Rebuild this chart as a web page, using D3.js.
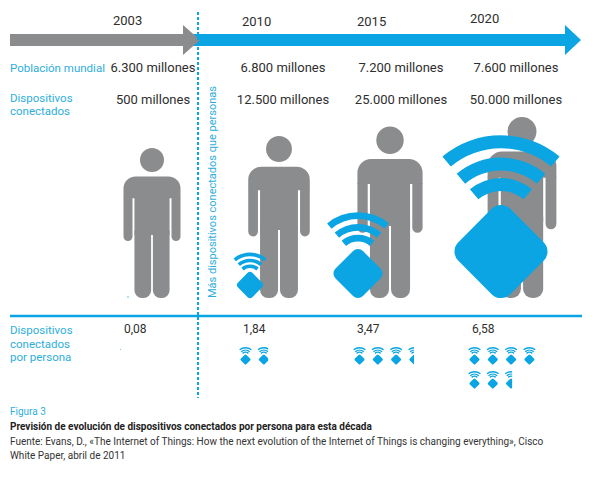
<!DOCTYPE html>
<html>
<head>
<meta charset="utf-8">
<script src="https://cdn.jsdelivr.net/npm/d3@7"></script>
<style>
  body { margin: 0; background: #fff; }
  text { font-family: Roboto, "Liberation Sans", sans-serif; }
</style>
</head>
<body>
<div id="wrapper"></div>
<script>
// datos de la figura
const years = ["2003", "2010", "2015", "2020"];
const poblacion = [6300, 6800, 7200, 7600];        // millones
const dispositivos = [500, 12500, 25000, 50000];   // millones
const porPersona = [0.08, 1.84, 3.47, 6.58];

const BLUE = "#0aa5e2";
const BLUE_TEXT = "#2eaedc";
const GRAY = "#8b8c8e";
const DARK = "#2e2e2e";

function buildChart() {
    const dimension = { width: 592, height: 480, ground: 298 };

    // posiciones de columnas (maquetación)
    const yearX = d3.scaleOrdinal().domain(years).range([113, 242, 357, 470]);
    const yearY = d3.scaleOrdinal().domain(years).range([25, 26, 26, 23]);
    const valueX = d3.scaleOrdinal().domain(years).range([153, 283, 401, 516]);
    const personX = d3.scaleOrdinal().domain(years).range([152, 279, 390, 522]);
    const deviceX = d3.scaleOrdinal().domain(years).range([128, 250, 358, 501]);
    const perX = d3.scaleOrdinal().domain(years).range([124, 243, 357, 472]);

    // altura de la persona proporcional a la población
    const heightScale = d3.scaleLinear().domain([0, 7600]).range([0, 181]);
    // tamaño del dispositivo proporcional a dispositivos por persona
    const deviceScale = d3.scaleLinear().domain([0, 6.58]).range([0, 93]);

    const es = d3.formatLocale({ decimal: ",", thousands: ".", grouping: [3], currency: ["", " €"] });
    const fmtInt = es.format(",");
    const fmtDec = es.format(".2f");

    const svg = d3.select("#wrapper").append("svg")
        .attr("width", dimension.width)
        .attr("height", dimension.height);

    // flecha del tiempo
    svg.append("path")
        .attr("d", "M190,34 L565,34 L565,25 L581,40 L565,55 L565,46 L190,46 Z")
        .attr("fill", BLUE);
    svg.append("path")
        .attr("d", "M10,34 L183,34 L183,25 L200,40 L183,55 L183,46 L10,46 Z")
        .attr("fill", GRAY);

    svg.selectAll(".year").data(years).join("text")
        .attr("x", d => yearX(d))
        .attr("y", d => yearY(d))
        .attr("fill", DARK)
        .style("font-size", "13px")
        .text(d => d);

    // línea punteada
    svg.append("line")
        .attr("x1", 198).attr("x2", 198)
        .attr("y1", 12).attr("y2", 398)
        .attr("stroke", BLUE)
        .attr("stroke-width", 2)
        .attr("stroke-dasharray", "3,2");

    svg.append("text")
        .attr("transform", "translate(216,298) rotate(-90)")
        .attr("fill", BLUE_TEXT)
        .style("font-size", "11px")
        .text("Más dispositivos conectados que personas");

    // etiquetas de filas
    svg.append("text").attr("x", 10).attr("y", 72)
        .attr("fill", BLUE_TEXT).style("font-size", "11.5px")
        .text("Población mundial");
    svg.append("text").attr("x", 10).attr("y", 102)
        .attr("fill", BLUE_TEXT).style("font-size", "11.5px")
        .text("Dispositivos");
    svg.append("text").attr("x", 10).attr("y", 115)
        .attr("fill", BLUE_TEXT).style("font-size", "11.5px")
        .text("conectados");

    svg.selectAll(".pob").data(years).join("text")
        .attr("x", d => valueX(d))
        .attr("y", 72)
        .attr("text-anchor", "middle")
        .attr("fill", DARK)
        .style("font-size", "13px")
        .text((d, i) => fmtInt(poblacion[i]) + " millones");

    svg.selectAll(".disp").data(years).join("text")
        .attr("x", d => valueX(d))
        .attr("y", 104)
        .attr("text-anchor", "middle")
        .attr("fill", DARK)
        .style("font-size", "13px")
        .text((d, i) => fmtInt(dispositivos[i]) + " millones");

    // personas
    const roundTop = (x, y, w, h, r) =>
        `M${x},${y + h}L${x},${y + r}A${r},${r} 0 0 1 ${x + r},${y}L${x + w - r},${y}A${r},${r} 0 0 1 ${x + w},${y + r}L${x + w},${y + h}Z`;
    const roundBottom = (x, y, w, h, r) =>
        `M${x},${y}L${x + w},${y}L${x + w},${y + h - r}A${r},${r} 0 0 1 ${x + w - r},${y + h}L${x + r},${y + h}A${r},${r} 0 0 1 ${x},${y + h - r}Z`;

    function person(g, cx, ground, u) {
        const top = ground - u;
        g.append("circle").attr("cx", cx).attr("cy", top + 0.08 * u).attr("r", 0.08 * u);
        g.append("path").attr("d", roundTop(cx - 0.19 * u, top + 0.19 * u, 0.38 * u, 0.145 * u, 0.08 * u));
        g.append("path").attr("d", roundBottom(cx - 0.19 * u, top + 0.33 * u, 0.06 * u, 0.29 * u, 0.03 * u));
        g.append("path").attr("d", roundBottom(cx + 0.13 * u, top + 0.33 * u, 0.06 * u, 0.29 * u, 0.03 * u));
        g.append("rect").attr("x", cx - 0.117 * u).attr("y", top + 0.33 * u)
            .attr("width", 0.234 * u).attr("height", 0.25 * u);
        g.append("path").attr("d", roundBottom(cx - 0.117 * u, top + 0.55 * u, 0.111 * u, 0.45 * u, 0.05 * u));
        g.append("path").attr("d", roundBottom(cx + 0.006 * u, top + 0.55 * u, 0.111 * u, 0.45 * u, 0.05 * u));
    }

    const arc = d3.arc();
    const ang = 40 * Math.PI / 180;
    function device(g, cx, bottom, w) {
        const cy = bottom - w / 2;
        const s = w / 1.265;
        g.append("rect")
            .attr("x", -s / 2).attr("y", -s / 2)
            .attr("width", s).attr("height", s)
            .attr("rx", 0.18 * s)
            .attr("transform", `translate(${cx},${cy}) rotate(45)`);
        const ay = cy - 0.27 * w;
        [0.98, 0.74, 0.52].forEach(k => {
            g.append("path")
                .attr("d", arc({ innerRadius: (k - 0.14) * w, outerRadius: k * w, startAngle: -ang, endAngle: ang }))
                .attr("transform", `translate(${cx},${ay})`);
        });
    }

    const people = svg.append("g").attr("fill", GRAY);
    years.forEach((y, i) => person(people, personX(y), dimension.ground, heightScale(poblacion[i])));

    const devices = svg.append("g").attr("fill", BLUE);
    years.forEach((y, i) => device(devices, deviceX(y), dimension.ground, deviceScale(porPersona[i])));

    // sección inferior
    svg.append("line")
        .attr("x1", 10).attr("x2", 582)
        .attr("y1", 316).attr("y2", 316)
        .attr("stroke", BLUE)
        .attr("stroke-width", 2.5);

    ["Dispositivos", "conectados", "por persona"].forEach((t, i) => {
        svg.append("text").attr("x", 10).attr("y", 334 + i * 13.5)
            .attr("fill", BLUE_TEXT).style("font-size", "11.5px").text(t);
    });

    svg.selectAll(".per").data(years).join("text")
        .attr("x", d => perX(d))
        .attr("y", 333)
        .attr("fill", DARK)
        .style("font-size", "12px")
        .text((d, i) => fmtDec(porPersona[i]));

    // iconos pequeños: uno por dispositivo, el último recortado
    const defs = svg.append("defs");
    const icons = svg.append("g").attr("fill", BLUE);
    const iconW = 13, step = 18.3, rowStep = 24;
    years.forEach((y, i) => {
        const v = porPersona[i];
        const n = Math.ceil(v);
        for (let k = 0; k < n; k++) {
            const frac = Math.min(1, v - k);
            const left = perX(y) - 4 + (k % 4) * step;
            const bottom = 364.5 + Math.floor(k / 4) * rowStep;
            const id = `clip-${i}-${k}`;
            defs.append("clipPath").attr("id", id)
                .append("rect")
                .attr("x", left).attr("y", bottom - 20)
                .attr("width", frac * iconW).attr("height", 22);
            const g = icons.append("g").attr("clip-path", `url(#${id})`);
            device(g, left + iconW / 2, bottom, 10);
        }
    });

    // pie de figura
    svg.append("text").attr("x", 10).attr("y", 415)
        .attr("fill", BLUE_TEXT).style("font-size", "10px").text("Figura 3");
    svg.append("text").attr("x", 10).attr("y", 430)
        .attr("fill", "#222").style("font-size", "10px").style("font-weight", "bold")
        .text("Previsión de evolución de dispositivos conectados por persona para esta década");
    svg.append("text").attr("x", 10).attr("y", 445)
        .attr("fill", "#333").style("font-size", "10px")
        .text("Fuente: Evans, D., «The Internet of Things: How the next evolution of the Internet of Things is changing everything», Cisco");
    svg.append("text").attr("x", 10).attr("y", 459)
        .attr("fill", "#333").style("font-size", "10px")
        .text("White Paper, abril de 2011");
}

buildChart();
</script>
</body>
</html>
